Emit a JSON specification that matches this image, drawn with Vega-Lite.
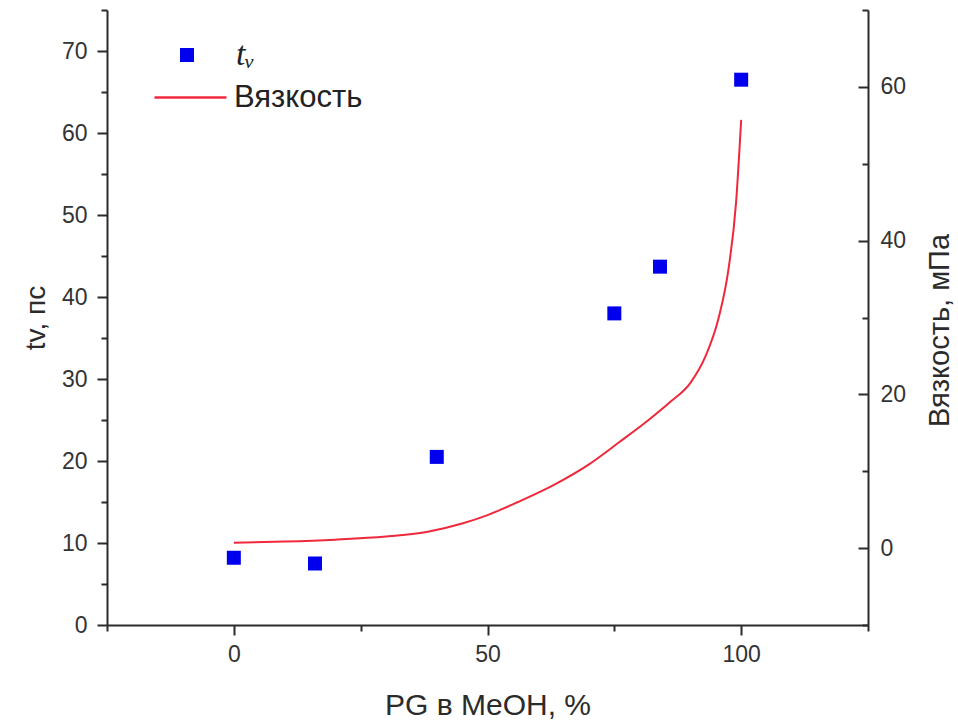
{
  "$schema": "https://vega.github.io/schema/vega-lite/v6.json",
  "width": 761,
  "height": 615,
  "autosize": "none",
  "padding": {"left": 107, "top": 10, "right": 90, "bottom": 96},
  "background": "white",
  "config": {
    "view": {"stroke": null},
    "font": "Liberation Sans",
    "axis": {
      "domainColor": "#2b2b2b",
      "domainWidth": 2,
      "tickColor": "#2b2b2b",
      "tickWidth": 2,
      "labelColor": "#333333",
      "labelFont": "Liberation Sans",
      "labelFontSize": 23,
      "titleFont": "Liberation Sans",
      "titleFontSize": 30,
      "titleFontWeight": "normal",
      "titleColor": "#2b2b2b",
      "grid": false
    }
  },
  "datasets": {
    "pts": [
      {"x": 0, "tv": 8.2, "s": "tᵥ"},
      {"x": 16, "tv": 7.5, "s": "tᵥ"},
      {"x": 40, "tv": 20.5, "s": "tᵥ"},
      {"x": 75, "tv": 38.0, "s": "tᵥ"},
      {"x": 84, "tv": 43.7, "s": "tᵥ"},
      {"x": 100, "tv": 66.5, "s": "tᵥ"}
    ],
    "visc": [
      {"x": 0, "eta": 0.7, "s": "Вязкость"},
      {"x": 10, "eta": 0.85, "s": "Вязкость"},
      {"x": 20, "eta": 1.1, "s": "Вязкость"},
      {"x": 30, "eta": 1.5, "s": "Вязкость"},
      {"x": 38, "eta": 2.1, "s": "Вязкость"},
      {"x": 45, "eta": 3.2, "s": "Вязкость"},
      {"x": 50, "eta": 4.3, "s": "Вязкость"},
      {"x": 56, "eta": 6.0, "s": "Вязкость"},
      {"x": 63, "eta": 8.2, "s": "Вязкость"},
      {"x": 70, "eta": 10.9, "s": "Вязкость"},
      {"x": 76, "eta": 13.8, "s": "Вязкость"},
      {"x": 82, "eta": 16.8, "s": "Вязкость"},
      {"x": 86, "eta": 19.0, "s": "Вязкость"},
      {"x": 90, "eta": 21.5, "s": "Вязкость"},
      {"x": 93, "eta": 25.0, "s": "Вязкость"},
      {"x": 95.5, "eta": 29.8, "s": "Вязкость"},
      {"x": 97.5, "eta": 36.3, "s": "Вязкость"},
      {"x": 99, "eta": 45.0, "s": "Вязкость"},
      {"x": 100, "eta": 55.7, "s": "Вязкость"}
    ]
  },
  "layer": [
    {
      "data": {"name": "pts"},
      "mark": {"type": "square", "filled": true, "size": 196, "opacity": 1},
      "encoding": {
        "x": {
          "field": "x", "type": "quantitative",
          "scale": {"domain": [-25, 125], "nice": false, "zero": false},
          "axis": {
            "title": "PG в MeOH, %",
            "titleFontSize": 30,
            "values": [-25, 0, 25, 50, 75, 100, 125],
            "labelExpr": "datum.value % 50 === 0 ? datum.label : ''",
            "tickSize": {"condition": {"test": "datum.value % 50 === 0", "value": 10}, "value": 6},
            "labelPadding": 8,
            "titlePadding": 24
          }
        },
        "y": {
          "field": "tv", "type": "quantitative",
          "scale": {"domain": [0, 75], "nice": false},
          "axis": {
            "title": "tv, пс",
            "titleFontSize": 28,
            "orient": "left",
            "values": [0, 5, 10, 15, 20, 25, 30, 35, 40, 45, 50, 55, 60, 65, 70, 75],
            "labelExpr": "datum.value % 10 === 0 && datum.value < 75 ? datum.label : ''",
            "tickSize": {"condition": {"test": "datum.value % 10 === 0", "value": 10}, "value": 6},
            "labelPadding": 10,
            "titlePadding": 11
          }
        },
        "fill": {
          "field": "s", "type": "nominal",
          "scale": {"domain": ["tᵥ"], "range": ["#0000ee"]},
          "legend": {
            "title": null,
            "orient": "none",
            "legendX": 63,
            "legendY": 28,
            "symbolType": "square",
            "symbolSize": 196,
            "symbolStrokeWidth": 0,
            "labelFont": "Liberation Serif",
            "labelFontStyle": "italic",
            "labelFontSize": 34,
            "labelColor": "#222222",
            "labelOffset": 32,
            "padding": 0
          }
        }
      }
    },
    {
      "data": {"name": "visc"},
      "mark": {"type": "line", "strokeWidth": 2, "interpolate": "monotone"},
      "encoding": {
        "x": {"field": "x", "type": "quantitative"},
        "y": {
          "field": "eta", "type": "quantitative",
          "scale": {"domain": [-10, 70], "nice": false, "zero": false},
          "axis": {
            "title": "Вязкость, мПа",
            "titleFontSize": 29,
            "titleAngle": 270,
            "titleBaseline": "top",
            "titleY": 320,
            "orient": "right",
            "values": [-10, 0, 10, 20, 30, 40, 50, 60, 70],
            "labelExpr": "datum.value % 20 === 0 && datum.value >= 0 && datum.value < 70 ? datum.label : ''",
            "tickSize": {"condition": {"test": "datum.value % 20 === 0", "value": -10}, "value": -6},
            "labelPadding": 22,
            "titlePadding": 20
          }
        },
        "stroke": {
          "field": "s", "type": "nominal",
          "scale": {"domain": ["Вязкость"], "range": ["#f0283c"]},
          "legend": {
            "title": null,
            "orient": "none",
            "legendX": 46,
            "legendY": 50,
            "symbolType": "stroke",
            "symbolSize": 5184,
            "symbolStrokeWidth": 2.5,
            "labelFont": "Liberation Sans",
            "labelFontSize": 31,
            "labelColor": "#222222",
            "labelOffset": 6,
            "padding": 0
          }
        }
      }
    }
  ],
  "resolve": {"scale": {"y": "independent"}}
}
